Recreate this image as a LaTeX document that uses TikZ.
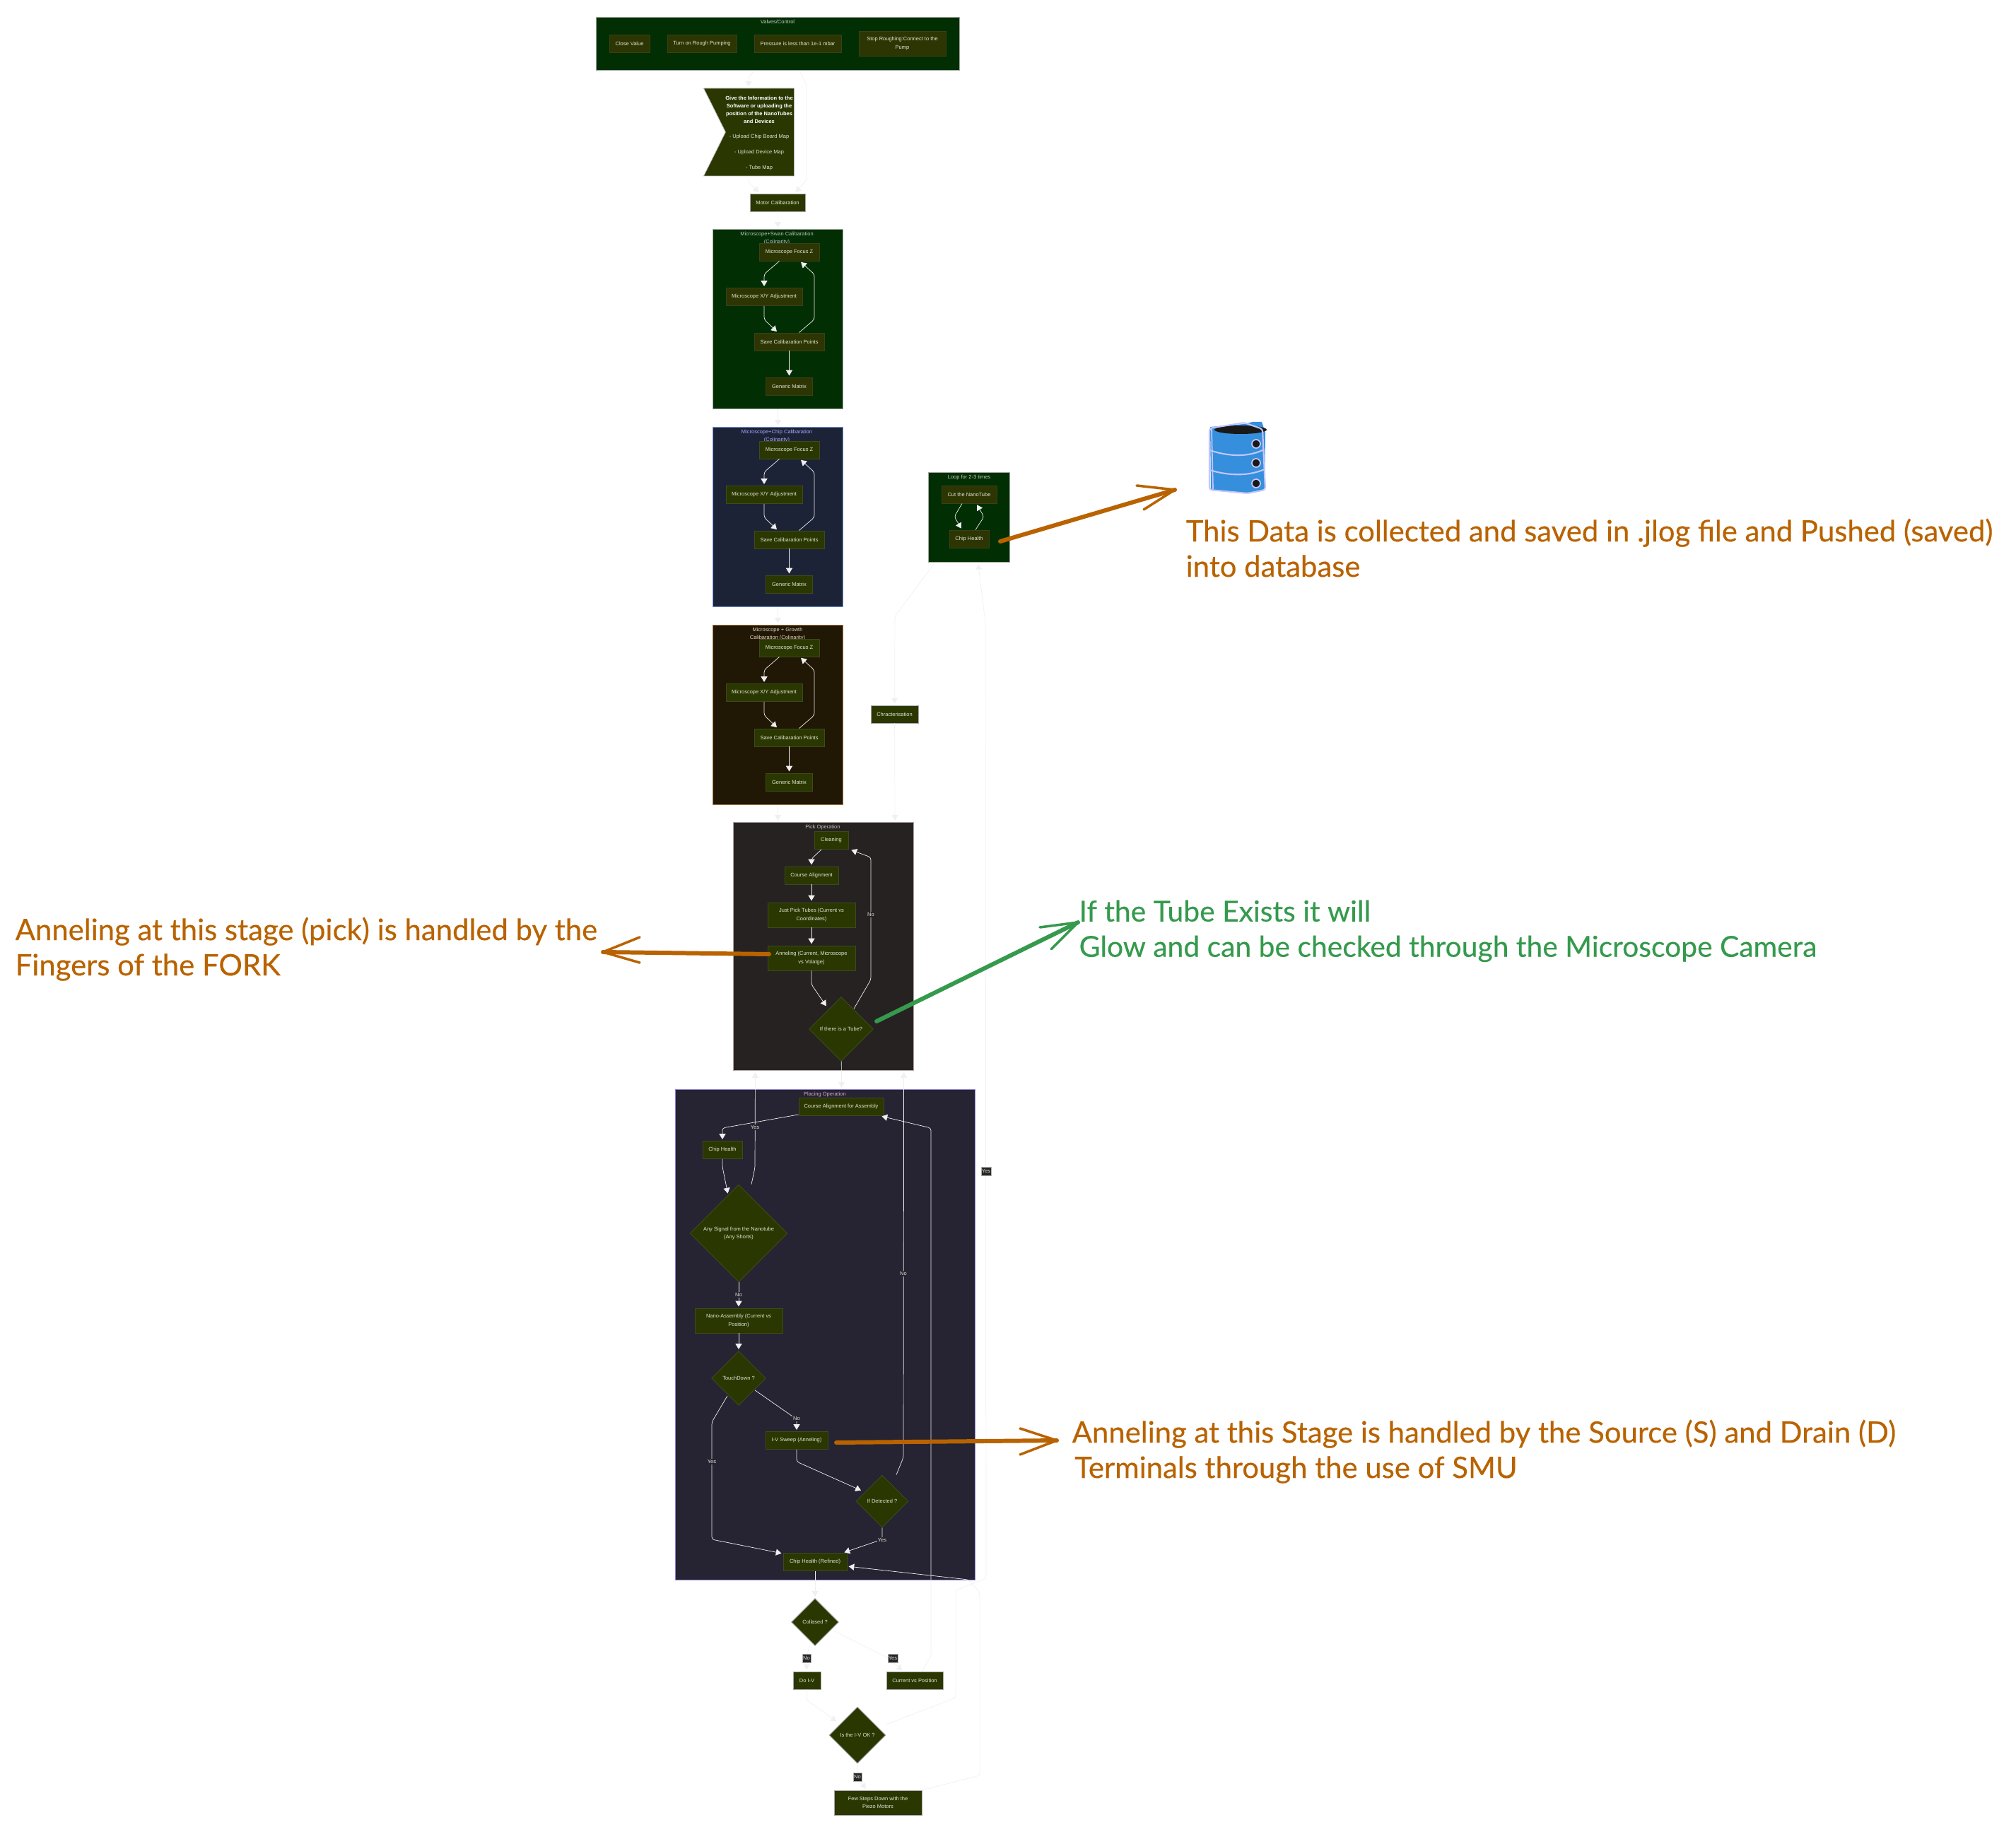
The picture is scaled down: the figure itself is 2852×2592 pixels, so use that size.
\documentclass[tikz,border=0pt]{standalone}
\usepackage{xcolor}
\usepackage{fontspec}
\setmainfont{Liberation Sans}
\newfontfamily\notefont[RawFeature={embolden=0.35}]{Lato}
\usepackage{tikz}
\usetikzlibrary{shapes.geometric,shapes.symbols,arrows.meta}
\definecolor{flowline}{HTML}{F0F0F0}
\definecolor{nodegreen}{HTML}{2A3700}
\definecolor{nodeline}{HTML}{3E4A1C}
\definecolor{oliveone}{HTML}{2D3503}
\definecolor{oliveline}{HTML}{3A401A}
\definecolor{nodetext}{HTML}{E0E4D0}
\definecolor{swanfill}{HTML}{012E02}
\definecolor{chipfill}{HTML}{1D2337}
\definecolor{growthfill}{HTML}{201705}
\definecolor{pickfill}{HTML}{262222}
\definecolor{placefill}{HTML}{262332}
\definecolor{swanedge}{HTML}{A0A8A0}
\definecolor{chipedge}{HTML}{6C94D8}
\definecolor{growthedge}{HTML}{A8743C}
\definecolor{pickedge}{HTML}{B0A4A4}
\definecolor{placeedge}{HTML}{9080D8}
\definecolor{noteorange}{HTML}{B96300}
\definecolor{notegreen}{HTML}{359A4D}
\definecolor{dbblue}{HTML}{368FDC}
\definecolor{dbline}{HTML}{C3C6FA}

\begin{document}
\begin{tikzpicture}[x=0.01cm, y=-0.01cm,
    main/.style 2 args = {draw=nodeline, line width=0.25pt, text=nodetext, fill=nodegreen, align=center, inner sep=0pt,
        minimum width=#1*0.01cm, minimum height=#2*0.01cm, font=\fontsize{2.13}{3.25}\selectfont},
    olive/.style 2 args = {main={#1}{#2}, draw=oliveline, fill=oliveone},
    outer/.style 2 args = {main={#1}{#2}, draw=black!35},
    decision/.style = {diamond, aspect=1, inner sep=0pt, draw=nodeline, line width=0.25pt, text=nodetext, fill=nodegreen,
        align=center, minimum size=#1*0.01cm, font=\fontsize{2.13}{3.25}\selectfont},
    cluster/.style 2 args = {draw=#1, fill=#2, line width=0.3pt, inner sep=0pt, anchor=north west},
    heading/.style = {text=#1, align=center, inner sep=0pt, font=\fontsize{2.13}{3.25}\selectfont},
    flow/.style = {draw=flowline, line width=0.2pt, rounded corners=1pt, shorten >=0.6pt,
        -{Triangle[length=2.2pt,width=2.6pt,fill=flowline]}},
    tag/.style = {fill=#1, text=nodetext, inner sep=0.3pt, font=\fontsize{2.13}{2.6}\selectfont},
    boxtag/.style = {tag=black!85, draw=black!30, line width=0.15pt, minimum height=12*0.01cm},
    stroke/.style = {draw=#1, line width=1.7pt, line cap=round, line join=round},
    barb/.style = {draw=#1, line width=1pt, line cap=round, line join=round},
    note/.style = {text=#1, align=left, anchor=north west, inner sep=0pt, font=\notefont\fontsize{11.9}{14.2}\selectfont}]
    \useasboundingbox (0,0) rectangle (2852,2592);

    % clusters
    \node[cluster={swanedge}{swanfill}, minimum width=514*0.01cm, minimum height=75*0.01cm] (valves) at (843,24) {};
    \node[cluster={swanedge}{swanfill}, minimum width=184*0.01cm, minimum height=254*0.01cm] (swan) at (1008,324) {};
    \node[cluster={chipedge}{chipfill}, minimum width=184*0.01cm, minimum height=254*0.01cm] (chipcal) at (1008,604) {};
    \node[cluster={growthedge}{growthfill}, minimum width=184*0.01cm, minimum height=254*0.01cm] (growth) at (1008,884) {};
    \node[cluster={swanedge}{swanfill}, minimum width=115*0.01cm, minimum height=127*0.01cm] (loop) at (1313,668) {};
    \node[cluster={pickedge}{pickfill}, minimum width=255*0.01cm, minimum height=351*0.01cm] (pick) at (1037,1163) {};
    \node[cluster={placeedge}{placefill}, minimum width=424*0.01cm, minimum height=694*0.01cm] (place) at (955,1541) {};

    \node[heading=black!20] (valvestitle) at (1100,31) {Valves/Control};
    \node[heading=black!25] (swantitle) at (1099,337) {Microscope+Swan Calibaration\\(Colinarity)};
    \node[heading=blue!35!white] (chiptitle) at (1099,617) {Microscope+Chip Calibaration\\(Colinarity)};
    \node[heading=brown!35!white] (growthtitle) at (1100,897) {Microscope + Growth\\Calibaration (Colinarity)};
    \node[heading=black!20] (looptitle) at (1371,676) {Loop for 2-3 times};
    \node[heading=black!25] (picktitle) at (1164,1171) {Pick Operation};
    \node[heading=violet!35!white] (placetitle) at (1167,1549) {Placing Operation};

    % valves and the steps before the calibrations
    \node[olive={57}{25}] (closevalue) at (890.5,61.5) {Close Value};
    \node[olive={98}{25}] (rough) at (993,61.5) {Turn on Rough Pumping};
    \node[olive={123}{25}] (pressure) at (1128.5,61.5) {Pressure is less than 1e-1 mbar};
    \node[olive={123}{35}] (stoprough) at (1276.5,61.5) {Stop Roughing:Connect to the\\Pump};
    \node[signal, signal to=nowhere, signal from=west, signal pointer angle=127, inner sep=0pt, fill=nodegreen, draw=black!30, line width=0.2pt,
        minimum width=128*0.01cm, minimum height=124*0.01cm] (flag) at (1075,187) {};
    \node[text=white, align=center, inner sep=0pt, font=\fontsize{2.13}{3.13}\selectfont\bfseries] (flagtitle) at (1074,155)
        {Give the Information to the\\Software or uploading the\\position of the NanoTubes\\and Devices};
    \node[text=nodetext, inner sep=0pt, font=\fontsize{2.13}{3.2}\selectfont] (mapa) at (1074,194) {- Upload Chip Board Map};
    \node[text=nodetext, inner sep=0pt, font=\fontsize{2.13}{3.2}\selectfont] (mapb) at (1074,216) {- Upload Device Map};
    \node[text=nodetext, inner sep=0pt, font=\fontsize{2.13}{3.2}\selectfont] (mapc) at (1074,238) {- Tube Map};
    \node[outer={78}{25}] (motor) at (1100,286.5) {Motor Calibaration};

    % calibration steps
    \node[olive={85}{25}] (swanz) at (1116.5,356.5) {Microscope Focus Z};
    \node[olive={108}{25}] (swanxy) at (1081,420) {Microscope X/Y Adjustment};
    \node[olive={99}{25}] (swansave) at (1116.5,483.5) {Save Calibaration Points};
    \node[olive={66}{25}] (swanmatrix) at (1116.5,546.5) {Generic Matrix};
    \node[main={85}{25}] (chipz) at (1116.5,636.5) {Microscope Focus Z};
    \node[main={108}{25}] (chipxy) at (1081,700) {Microscope X/Y Adjustment};
    \node[main={99}{25}] (chipsave) at (1116.5,763.5) {Save Calibaration Points};
    \node[main={66}{25}] (chipmatrix) at (1116.5,826.5) {Generic Matrix};
    \node[main={85}{25}] (growthz) at (1116.5,916.5) {Microscope Focus Z};
    \node[main={108}{25}] (growthxy) at (1081,980) {Microscope X/Y Adjustment};
    \node[main={99}{25}] (growthsave) at (1116.5,1043.5) {Save Calibaration Points};
    \node[main={66}{25}] (growthmatrix) at (1116.5,1106.5) {Generic Matrix};

    % loop and characterisation
    \node[olive={78}{25}] (cutnano) at (1371,699.5) {Cut the NanoTube};
    \node[olive={56}{25}] (loophealth) at (1371,762.5) {Chip Health};
    \node[outer={67}{25}] (character) at (1265.5,1010.5) {Chracterisation};

    % pick operation
    \node[main={48}{25}] (cleaning) at (1176,1189) {Cleaning};
    \node[main={76}{25}] (coursepick) at (1148,1238.5) {Course Alignment};
    \node[main={124}{35}] (justpick) at (1148,1294.5) {Just Pick Tubes (Current vs\\Coordinates)};
    \node[main={124}{35}] (anneal) at (1148,1355.5) {Anneling (Current, Microscope\\vs Volatge)};
    \node[decision=91] (istube) at (1190,1456) {If there is a Tube?};

    % placing operation
    \node[main={120}{25}] (courseplace) at (1190,1566) {Course Alignment for Assembly};
    \node[main={56}{25}] (placehealth) at (1022,1627) {Chip Health};
    \node[decision=138] (anysignal) at (1045,1745) {Any Signal from the Nanotube\\(Any Shorts)};
    \node[main={124}{35}] (nano) at (1045,1868.5) {Nano-Assembly (Current vs\\Position)};
    \node[decision=77] (touchdown) at (1045,1950) {TouchDown ?};
    \node[main={88}{25}] (sweep) at (1127,2038) {I-V Sweep (Anneling)};
    \node[decision=74] (detected) at (1248,2124) {If Detected ?};
    \node[main={90}{25}] (refined) at (1153,2210) {Chip Health (Refined)};

    % below the placing operation
    \node[decision=67, draw=black!35] (collapsed) at (1153,2295) {Collased ?};
    \node[outer={39}{25}] (doiv) at (1141.5,2377.5) {Do I-V};
    \node[outer={80}{25}] (currentpos) at (1294,2377.5) {Current vs Position};
    \node[decision=80, draw=black!35] (ivok) at (1213,2455) {Is the I-V OK ?};
    \node[outer={124}{35}] (fewsteps) at (1242,2550.5) {Few Steps Down with the\\Piezo Motors};

    % connectors
    \draw[flow] ([xshift=-0.34cm]valves.south) -- (1059,110) -- ([xshift=-0.16cm]flag.north);
    \draw[flow] ([xshift=0.30cm]valves.south) -- (1141,120) -- (1141,255) -- ([xshift=0.24cm]motor.north);
    \draw[flow] ([xshift=-0.16cm]flag.south) -- (1059,258) -- ([xshift=-0.25cm]motor.north);
    \draw[flow] (motor) -- (swan.north);

    \draw[flow] ([xshift=-0.14cm]swanz.south) -- (1081,388) -- (swanxy);
    \draw[flow] (swanxy) -- (1081,452) -- ([xshift=-0.16cm]swansave.north);
    \draw[flow] ([xshift=0.14cm]swansave.north) -- (1152,452) -- (1152,388) -- ([xshift=0.15cm]swanz.south);
    \draw[flow] (swansave) -- (swanmatrix);
    \draw[flow] (swan) -- (chipcal);
    \draw[flow] ([xshift=-0.14cm]chipz.south) -- (1081,668) -- (chipxy);
    \draw[flow] (chipxy) -- (1081,732) -- ([xshift=-0.16cm]chipsave.north);
    \draw[flow] ([xshift=0.14cm]chipsave.north) -- (1152,732) -- (1152,668) -- ([xshift=0.15cm]chipz.south);
    \draw[flow] (chipsave) -- (chipmatrix);
    \draw[flow] (chipcal) -- (growth);
    \draw[flow] ([xshift=-0.14cm]growthz.south) -- (1081,948) -- (growthxy);
    \draw[flow] (growthxy) -- (1081,1012) -- ([xshift=-0.16cm]growthsave.north);
    \draw[flow] ([xshift=0.14cm]growthsave.north) -- (1152,1012) -- (1152,948) -- ([xshift=0.15cm]growthz.south);
    \draw[flow] (growthsave) -- (growthmatrix);
    \draw[flow] (growth.south) -- ([xshift=-0.645cm]pick.north);

    \draw[flow] ([xshift=-0.10cm]cutnano.south) -- (1350,731) -- ([xshift=-0.10cm]loophealth.north);
    \draw[flow] ([xshift=0.09cm]loophealth.north) -- (1392,731) -- ([xshift=0.10cm]cutnano.south);
    \draw[flow] ([xshift=-0.485cm]loop.south) -- (1266,872) -- (character);
    \draw[flow] (character) -- ([xshift=1.01cm]pick.north);

    \draw[flow] ([xshift=-0.14cm]cleaning.south) -- (1148,1215) -- (coursepick);
    \draw[flow] (coursepick) -- (justpick);
    \draw[flow] (justpick) -- (anneal);
    \draw[flow] (anneal) -- (1148,1393) -- ([xshift=-0.20cm,yshift=-0.15cm]istube.north);
    \draw[flow] ([xshift=0.18cm,yshift=-0.17cm]istube.north) -- (1232,1386) -- (1232,1213) -- ([xshift=0.02cm]cleaning.south east);
    \draw[flow] (istube) -- ([xshift=0.23cm]place.north);

    \draw[flow] ([yshift=0.02cm]courseplace.south west) -- (1022,1596) -- (placehealth);
    \draw[flow] (placehealth) -- (1022,1651) -- ([xshift=-0.15cm,yshift=-0.15cm]anysignal.north);
    \draw[flow] ([xshift=0.18cm]anysignal.north) -- (1068,1652) -- ([xshift=-0.965cm]pick.south);
    \draw[flow] (anysignal) -- (nano);
    \draw[flow] (nano) -- (touchdown);
    \draw[flow] ([xshift=0.23cm,yshift=0.22cm]touchdown.south) -- (1127,2008) -- (sweep);
    \draw[flow] ([xshift=-0.16cm,yshift=0.14cm]touchdown.south) -- (1007,2012) -- (1007,2178) -- ([yshift=-0.01cm]refined.north west);
    \draw[flow] (sweep) -- (1127,2068) -- ([xshift=-0.28cm,yshift=-0.23cm]detected.north);
    \draw[flow] ([xshift=0.20cm]detected.north) -- (1278,2062) -- ([xshift=1.135cm]pick.south);
    \draw[flow] (detected) -- (1248,2178) -- ([xshift=-0.06cm]refined.north east);
    \draw[flow] (refined) -- (collapsed);
    \draw[flow] ([xshift=-0.08cm]collapsed.south) -- (1141,2345) -- (doiv);
    \draw[flow] ([xshift=-0.08cm,yshift=-0.12cm]collapsed.east) -- (1255,2345) -- ([xshift=-0.16cm]currentpos.north);
    \draw[flow] (doiv) -- (1141,2405) -- ([xshift=-0.28cm,yshift=-0.22cm]ivok.north);
    \draw[flow] ([xshift=0.10cm]currentpos.north) -- (1317,2343) -- (1317,1596) -- ([xshift=-0.05cm]courseplace.south east);
    \draw[flow] ([yshift=0.15cm]ivok.east) -- (1352,2402) -- (1352,2250) -- (1395,2233) -- (1394,881) -- ([xshift=0.125cm]loop.south);
    \draw[flow] (ivok) -- (1213,2514) -- ([xshift=-0.16cm]fewsteps.north);
    \draw[flow] ([xshift=0.63cm]fewsteps.north) -- (1386,2512) -- (1386,2253) -- (1370,2235) -- ([yshift=-0.06cm]refined.east);

    % edge labels
    \node[tag=pickfill] (nopick) at (1232,1294) {No};
    \node[tag=placefill] (yessignal) at (1068,1595) {Yes};
    \node[tag=placefill] (nosignal) at (1045,1832) {No};
    \node[tag=placefill] (notouch) at (1127,2007) {No};
    \node[tag=placefill] (yestouch) at (1007,2068) {Yes};
    \node[tag=placefill] (nodetect) at (1278,1802) {No};
    \node[tag=placefill] (yesdetect) at (1248,2179) {Yes};
    \node[boxtag] (yesiv) at (1395,1657) {Yes};
    \node[boxtag] (nocollapse) at (1141,2346) {No};
    \node[boxtag] (yescollapse) at (1263,2346) {Yes};
    \node[boxtag] (noiv) at (1213,2514) {No};

    % database
    \fill[dbblue] (1712,604) -- (1760,600) -- (1772,597) -- (1785,597) -- (1790,612) -- (1789,692) -- (1765,698) -- (1713,693) -- cycle;
    \fill[black!90] (1755,608) ellipse (37 and 6);
    \draw[dbline, line width=0.6pt, rounded corners=1pt] (1711,606) -- (1760,598) -- (1786,607) -- (1790,693) -- (1765,698) -- (1711,693) -- cycle;
    \draw[dbline, line width=0.5pt] (1714,606) -- (1716,692);
    \draw[dbline, line width=0.6pt] (1711,637) .. controls (1745,648) and (1770,645) .. (1788,636);
    \draw[dbline, line width=0.6pt] (1711,665) .. controls (1745,675) and (1770,672) .. (1789,664);
    \filldraw[fill=black!90, draw=dbline, line width=0.5pt] (1777,628) circle (6);
    \filldraw[fill=black!90, draw=dbline, line width=0.5pt] (1777,655) circle (6);
    \filldraw[fill=black!90, draw=dbline, line width=0.5pt] (1777,684) circle (6);

    % hand drawn notes
    \coordinate (dbtail) at (1415,766);
    \coordinate (dbtip) at (1662,693);
    \draw[stroke=noteorange] (dbtail) -- (dbtip);
    \draw[barb=noteorange] (1608,687) -- (dbtip) -- (1618,721);
    \node[note=noteorange] (dbnote) at (1677,733) {This Data is collected and saved in .jlog file and Pushed (saved)\\into database};

    \coordinate (picktail) at (1088,1350);
    \coordinate (picktip) at (853,1347);
    \draw[stroke=noteorange] (picktail) -- (picktip);
    \draw[barb=noteorange] (905,1326) -- (picktip) -- (905,1362);
    \node[note=noteorange] (picknote) at (21,1297) {Anneling at this stage (pick) is handled by the\\Fingers of the FORK};

    \coordinate (glowtail) at (1240,1445);
    \coordinate (glowtip) at (1525,1305);
    \draw[stroke=notegreen] (glowtail) -- (glowtip);
    \draw[barb=notegreen] (1471,1312) -- (glowtip) -- (1487,1343);
    \node[note=notegreen, font=\notefont\fontsize{11.6}{14.2}\selectfont] (glownote) at (1526,1273) {If the Tube Exists it will\\Glow and can be checked through the Microscope Camera};

    \coordinate (smutail) at (1183,2041);
    \coordinate (smutip) at (1495,2038);
    \draw[stroke=noteorange] (smutail) -- (smutip);
    \draw[barb=noteorange] (1443,2021) -- (smutip) -- (1443,2058);
    \node[note=noteorange] (smunote) at (1516,2008) {Anneling at this Stage is handled by the Source (S) and Drain (D)\\ \hspace*{1pt}Terminals through the use of SMU};
\end{tikzpicture}
\end{document}
